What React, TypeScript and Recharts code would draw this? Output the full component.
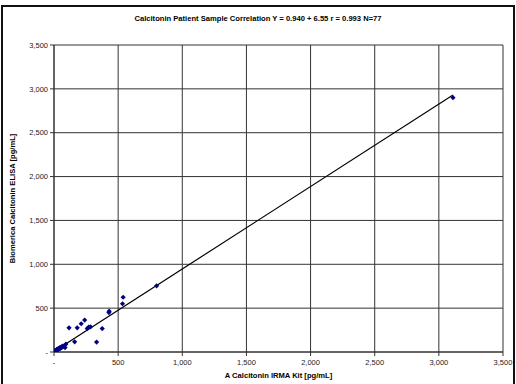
import React from "react"
import {
  CartesianGrid,
  Label,
  ReferenceLine,
  Scatter,
  ScatterChart,
  XAxis,
  YAxis,
} from "recharts"

// A Calcitonin IRMA Kit [pg/mL]
const irmaValues = [
  3110, 800, 539, 534, 430, 428, 117, 181, 212, 239, 259, 270, 285, 376, 332, 161, 93, 86,
  2, 3, 4, 5, 6, 6, 7, 8, 9, 10, 10, 11, 12, 13, 14, 15, 16, 17, 18, 19,
  20, 21, 22, 23, 24, 25, 26, 27, 28, 29, 30, 31, 32, 34, 35, 37, 38, 40, 42, 44,
  45, 47, 49, 50, 52, 54, 56, 58, 60, 62, 64, 66, 68, 70, 8, 14, 22, 33, 48,
]
// Biomerica Calcitonin ELISA [pg/mL]
const elisaValues = [
  2900, 755, 624, 550, 465, 450, 276, 276, 322, 364, 267, 283, 287, 267, 113, 116, 90, 50,
  4, 5, 3, 7, 6, 9, 8, 10, 11, 9, 13, 12, 14, 12, 15, 16, 14, 18, 17, 20,
  19, 22, 21, 24, 23, 25, 27, 26, 29, 28, 30, 31, 33, 32, 36, 35, 38, 39, 41, 40,
  44, 43, 46, 48, 47, 52, 50, 55, 54, 58, 60, 59, 63, 66, 12, 18, 26, 35, 51,
]
const axisTicks = [0, 500, 1000, 1500, 2000, 2500, 3000, 3500]

// regression: Y = 0.940 X + 6.55, drawn over the data range
const slope = 0.94
const intercept = 6.55
const fitStart = 0
const fitEnd = 3110

const samples = irmaValues.map((x, i) => ({ x, y: elisaValues[i] }))

const fmt = (v: number) => (v === 0 ? "-" : v.toLocaleString("en-US"))

const Diamond = (props: any) => {
  const { cx, cy } = props
  const s = 2.6
  return (
    <polygon
      points={`${cx},${cy - s} ${cx + s},${cy} ${cx},${cy + s} ${cx - s},${cy}`}
      fill="#000080"
    />
  )
}

const font = "'Liberation Sans', Arial, sans-serif"

export default function App() {
  return (
    <div style={{ position: "fixed", left: 0, top: 0, width: 516, height: 384, background: "#fff", fontFamily: font }}>
      <div
        style={{
          position: "absolute",
          left: 1,
          top: 5,
          width: 510,
          height: 400,
          border: "2px solid #111",
        }}
      />
      <div
        style={{
          position: "absolute",
          top: 14,
          left: 0,
          width: 516,
          textAlign: "center",
          fontSize: 7.6,
          fontWeight: "bold",
          color: "#000",
        }}
      >
        Calcitonin Patient Sample Correlation Y = 0.940 + 6.55 r = 0.993 N=77
      </div>
      <div style={{ position: "absolute", left: 0, top: 0 }}>
        <ScatterChart width={516} height={384} margin={{ top: 45, right: 13, bottom: 0, left: 0 }}>
          <CartesianGrid stroke="#333" strokeWidth={1} />
          <XAxis
            type="number"
            dataKey="x"
            domain={[0, 3500]}
            ticks={axisTicks}
            tickFormatter={fmt}
            height={32}
            tickSize={4}
            stroke="#333"
            tick={{ fontSize: 7.5, fill: "#222", fontFamily: font, dy: 2 }}
            allowDataOverflow
          >
            <Label
              value="A Calcitonin IRMA Kit [pg/mL]"
              position="insideBottom"
              offset={6}
              style={{ fontSize: 7.6, fontWeight: "bold", fill: "#000", fontFamily: font }}
            />
          </XAxis>
          <YAxis
            type="number"
            dataKey="y"
            domain={[0, 3500]}
            ticks={axisTicks}
            tickFormatter={fmt}
            width={54}
            tickSize={4}
            stroke="#333"
            tick={{ fontSize: 7.5, fill: "#222", fontFamily: font }}
            allowDataOverflow
          >
            <Label
              value="Biomerica  Calcitonin ELISA [pg/mL]"
              angle={-90}
              position="insideLeft"
              offset={12}
              style={{ fontSize: 7.6, fontWeight: "bold", fill: "#000", fontFamily: font, textAnchor: "middle" }}
            />
          </YAxis>
          <ReferenceLine
            segment={[
              { x: fitStart, y: slope * fitStart + intercept },
              { x: fitEnd, y: slope * fitEnd + intercept },
            ]}
            stroke="#000"
            strokeWidth={1.2}
            ifOverflow="hidden"
          />
          <Scatter data={samples} shape={Diamond} isAnimationActive={false} />
        </ScatterChart>
      </div>
    </div>
  )
}
